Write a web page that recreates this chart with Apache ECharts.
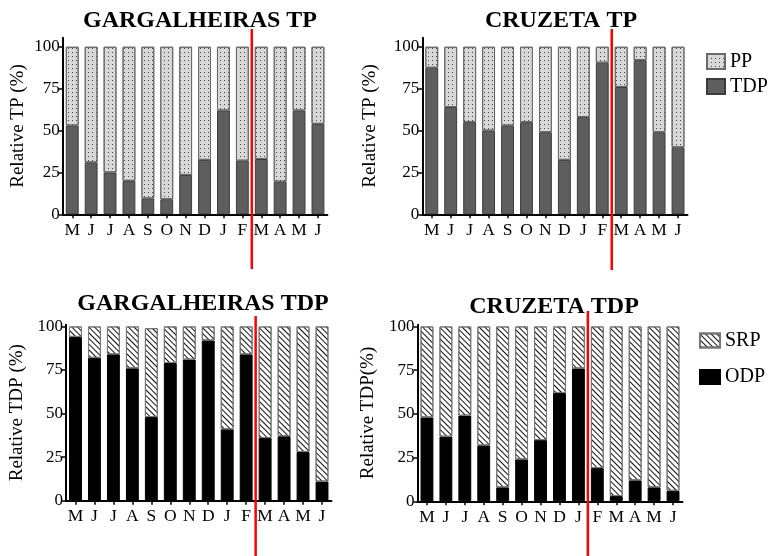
<!DOCTYPE html>
<html>
<head>
<meta charset="utf-8">
<script src="https://cdn.jsdelivr.net/npm/echarts@6/dist/echarts.min.js"></script>
<style>
html,body{margin:0;padding:0;background:#fff;}
#main{width:772px;height:556px;}
</style>
</head>
<body>
<div id="main"></div>
<script>
// ---- data ----
const months = ['M','J','J','A','S','O','N','D','J','F','M','A','M','J'];
const yTicks = [0, 25, 50, 75, 100];

// Gargalheiras TP (%)
const gargTDP = [53, 31, 25, 20, 9.5, 9, 23.5, 32.5, 62, 32, 33, 19.5, 62, 54];
const gargPP  = [47, 69, 75, 80, 90.5, 91, 76.5, 67.5, 38, 68, 67, 80.5, 38, 46];

// Cruzeta TP (%)
const cruzTDP = [87.5, 64, 55, 50, 53, 55, 49, 32.5, 58, 90.5, 76, 92, 49, 40];
const cruzPP  = [12.5, 36, 45, 50, 47, 45, 51, 67.5, 42, 9.5, 24, 8, 51, 60];

// Gargalheiras TDP (%)
const gargODP = [94, 82, 84, 76, 48, 79, 81, 92, 41, 84, 36, 37, 28, 11];
const gargSRP = [6, 18, 16, 24, 51, 21, 19, 8, 59, 16, 64, 63, 72, 89];

// Cruzeta TDP (%)
const cruzODP = [48, 37, 49, 32, 8, 24, 35, 62, 76, 19, 3, 12, 8, 6];
const cruzSRP = [52, 63, 51, 68, 92, 76, 65, 38, 24, 81, 97, 88, 92, 94];

// red divider: placed after this category index in each panel
const dividerAfter = [9, 9, 9, 8];

const titles = ['GARGALHEIRAS TP', 'CRUZETA TP', 'GARGALHEIRAS TDP', 'CRUZETA TDP'];
const yNames = ['Relative TP (%)', 'Relative TP (%)', 'Relative TDP (%)', 'Relative TDP(%)'];

// ---- styling ----
const FONT = "'Liberation Serif', 'Times New Roman', serif";
const grids = [
  {left: 62.8, top: 37.7, width: 264.6, height: 176.6},
  {left: 422.3, top: 37.7, width: 265.2, height: 176.6},
  {left: 66, top: 324.7, width: 265.5, height: 176.0},
  {left: 417.5, top: 324.7, width: 265, height: 176.6}
];
const yMax = [105.4, 105.4, 101, 101];
const nameGaps = [35, 43, 39, 40];
const titlePos = [
  {x: 195, top: 4}, {x: 556, top: 4}, {x: 198, top: 287}, {x: 549, top: 290}
];
const lineY = [[29, 269], [29, 270], [316, 556], [311, 556]];

const dotDecal = {symbol: 'rect', symbolSize: 1, color: '#444', dashArrayX: [1, 3], dashArrayY: [1, 3], rotation: 0};
const stripeDecal = {symbol: 'rect', symbolSize: 1, color: '#111', dashArrayX: [1, 0], dashArrayY: [0.9, 2.1], rotation: Math.PI / 4};

const styleTDP = {color: '#5e5e5e', borderColor: '#3c3c3c', borderWidth: 1};
const stylePP = {color: '#d8d8d8', borderColor: '#6a6a6a', borderWidth: 1, decal: dotDecal};
const styleODP = {color: '#000', borderColor: '#000', borderWidth: 1};
const styleSRP = {color: '#fff', borderColor: '#777', borderWidth: 1, decal: stripeDecal};

const xAxes = grids.map((g, i) => ({
  type: 'category', gridIndex: i, data: months,
  axisLine: {lineStyle: {color: '#000', width: 2}},
  axisTick: {show: true, alignWithLabel: true, length: 4, lineStyle: {color: '#000', width: 1.5}},
  axisLabel: {color: '#000', fontFamily: FONT, fontSize: 17.5, margin: 7, interval: 0}
}));
const yAxes = grids.map((g, i) => ({
  type: 'value', gridIndex: i, min: 0, max: yMax[i],
  name: yNames[i], nameLocation: 'middle', nameGap: nameGaps[i],
  nameTextStyle: {color: '#000', fontFamily: FONT, fontSize: 19},
  splitLine: {show: false},
  axisLine: {show: true, lineStyle: {color: '#000', width: 2}},
  axisTick: {show: true, length: 4, customValues: yTicks, lineStyle: {color: '#000', width: 1.5}},
  axisLabel: {color: '#000', fontFamily: FONT, fontSize: 17, margin: 3, customValues: yTicks}
}));

function barSeries(name, data, idx, style) {
  return {
    type: 'bar', name: name, data: data, xAxisIndex: idx, yAxisIndex: idx,
    stack: 's' + idx, barCategoryGap: '32%', itemStyle: style
  };
}

const series = [
  barSeries('TDP', gargTDP, 0, styleTDP), barSeries('PP', gargPP, 0, stylePP),
  barSeries('TDP', cruzTDP, 1, styleTDP), barSeries('PP', cruzPP, 1, stylePP),
  barSeries('ODP', gargODP, 2, styleODP), barSeries('SRP', gargSRP, 2, styleSRP),
  barSeries('ODP', cruzODP, 3, styleODP), barSeries('SRP', cruzSRP, 3, styleSRP)
];

const option = {
  animation: false,
  backgroundColor: '#fff',
  title: titles.map((t, i) => ({
    text: t, left: titlePos[i].x, top: titlePos[i].top, textAlign: 'center',
    textStyle: {fontFamily: FONT, fontSize: 24, fontWeight: 'bold', color: '#000'}
  })),
  grid: grids,
  xAxis: xAxes,
  yAxis: yAxes,
  legend: [
    {data: ['PP', 'TDP'], orient: 'vertical', left: 701, top: 46.5, itemWidth: 18, itemHeight: 15, itemGap: 5,
     icon: 'rect', textStyle: {fontFamily: FONT, fontSize: 20, color: '#000'}, selectedMode: false},
    {data: ['SRP', 'ODP'], orient: 'vertical', left: 694, top: 325.5, itemWidth: 20, itemHeight: 14, itemGap: 16.5,
     icon: 'rect', textStyle: {fontFamily: FONT, fontSize: 20, color: '#000'}, selectedMode: false}
  ],
  series: series
};

const chart = echarts.init(document.getElementById('main'), null, {renderer: 'canvas'});
chart.setOption(option);

const lines = dividerAfter.map((d, i) => {
  const a = chart.convertToPixel({xAxisIndex: i}, d);
  const b = chart.convertToPixel({xAxisIndex: i}, d + 1);
  const x = (a + b) / 2;
  return {type: 'line', z: 100, shape: {x1: x, y1: lineY[i][0], x2: x, y2: lineY[i][1]},
          style: {stroke: '#ff0000', lineWidth: 2.5}};
});
chart.setOption({graphic: lines});
</script>
</body>
</html>
